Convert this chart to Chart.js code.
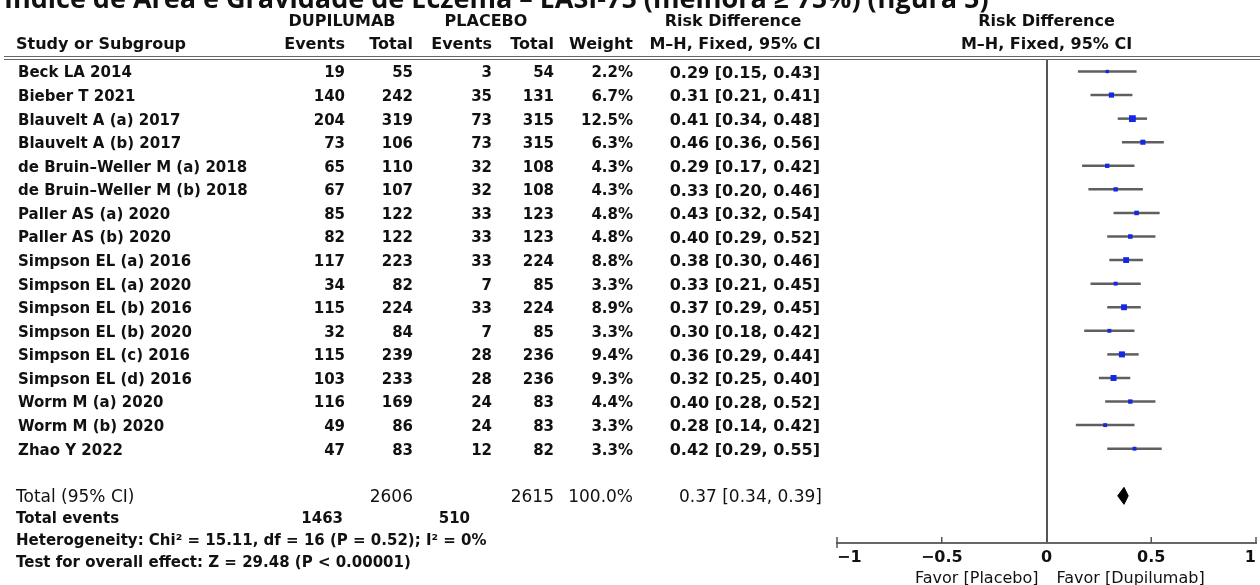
<!DOCTYPE html>
<html lang="pt">
<head>
    <meta charset="UTF-8">
    <title>EASI-75 forest plot</title>
    <script src="https://cdn.jsdelivr.net/npm/chart.js"></script>
    <style>
        html, body { margin: 0; padding: 0; background: #fff; overflow: hidden; }
        canvas { display: block; }
    </style>
</head>
<body>
    <canvas id="forestChart" width="1261" height="585"></canvas>
    <script>
        const studies = [
            "Beck LA 2014", "Bieber T 2021", "Blauvelt A (a) 2017", "Blauvelt A (b) 2017",
            "de Bruin\u2013Weller M (a) 2018", "de Bruin\u2013Weller M (b) 2018",
            "Paller AS (a) 2020", "Paller AS (b) 2020", "Simpson EL (a) 2016", "Simpson EL (a) 2020",
            "Simpson EL (b) 2016", "Simpson EL (b) 2020", "Simpson EL (c) 2016", "Simpson EL (d) 2016",
            "Worm M (a) 2020", "Worm M (b) 2020", "Zhao Y 2022"
        ];
        const dupEvents = [19, 140, 204, 73, 65, 67, 85, 82, 117, 34, 115, 32, 115, 103, 116, 49, 47];
        const dupTotal = [55, 242, 319, 106, 110, 107, 122, 122, 223, 82, 224, 84, 239, 233, 169, 86, 83];
        const plaEvents = [3, 35, 73, 73, 32, 32, 33, 33, 33, 7, 33, 7, 28, 28, 24, 24, 12];
        const plaTotal = [54, 131, 315, 315, 108, 108, 123, 123, 224, 85, 224, 85, 236, 236, 83, 83, 82];
        const weights = [2.2, 6.7, 12.5, 6.3, 4.3, 4.3, 4.8, 4.8, 8.8, 3.3, 8.9, 3.3, 9.4, 9.3, 4.4, 3.3, 3.3];
        const riskDiff = [0.29, 0.31, 0.41, 0.46, 0.29, 0.33, 0.43, 0.40, 0.38, 0.33, 0.37, 0.30, 0.36, 0.32, 0.40, 0.28, 0.42];
        const ciLow = [0.15, 0.21, 0.34, 0.36, 0.17, 0.20, 0.32, 0.29, 0.30, 0.21, 0.29, 0.18, 0.29, 0.25, 0.28, 0.14, 0.29];
        const ciHigh = [0.43, 0.41, 0.48, 0.56, 0.42, 0.46, 0.54, 0.52, 0.46, 0.45, 0.45, 0.42, 0.44, 0.40, 0.52, 0.42, 0.55];

        const totalDup = 2606, totalPla = 2615, totalWeight = 100.0;
        const totalRd = 0.37, totalLow = 0.34, totalHigh = 0.39;
        const totalEventsDup = 1463, totalEventsPla = 510;
        const xTicks = [-1, -0.5, 0, 0.5, 1];

        const TOTAL_ROW = 18;
        const fmt = v => v.toFixed(2);

        // text table on the left + header + footer notes
        const tablePlugin = {
            id: 'forestTable',
            afterDraw(chart) {
                const c = chart.ctx;
                const xs = chart.scales.x, ys = chart.scales.y;
                const zero = xs.getPixelForValue(0);
                const py = i => ys.getPixelForValue(i) + 2;
                const txt = (s, x, y, align, font) => {
                    c.font = font;
                    c.textAlign = align;
                    c.fillText(s, x, y);
                };
                c.save();
                c.fillStyle = '#111';
                c.textBaseline = 'alphabetic';
                txt('\u00cdndice de \u00c1rea e Gravidade de Eczema \u2013 EASI-75 (melhora \u2265 75%) (figura 5)',
                    4, 8, 'left', 'bold 27px "Open Sans"');

                c.textBaseline = 'middle';
                const hb = 'bold 16px "DejaVu Sans"';
                txt('DUPILUMAB', 342, 22, 'center', hb);
                txt('PLACEBO', 486, 22, 'center', hb);
                txt('Risk Difference', 733, 22, 'center', hb);
                txt('Risk Difference', zero, 22, 'center', hb);
                txt('Study or Subgroup', 16, 45, 'left', hb);
                txt('Events', 345, 45, 'right', hb);
                txt('Total', 413, 45, 'right', hb);
                txt('Events', 492, 45, 'right', hb);
                txt('Total', 554, 45, 'right', hb);
                txt('Weight', 633, 45, 'right', hb);
                txt('M\u2013H, Fixed, 95% CI', 735, 45, 'center', hb);
                txt('M\u2013H, Fixed, 95% CI', zero, 45, 'center', hb);

                // double rule under the header
                c.strokeStyle = '#666';
                c.lineWidth = 1.2;
                [56.5, 59.5].forEach(y => {
                    c.beginPath();
                    c.moveTo(4, y);
                    c.lineTo(chart.width, y);
                    c.stroke();
                });

                const rf = 'bold 15px "DejaVu Sans"';
                const rdf = 'bold 16px "DejaVu Sans"';
                studies.forEach((name, i) => {
                    const y = py(i);
                    txt(name, 18, y, 'left', rf);
                    txt(String(dupEvents[i]), 345, y, 'right', rf);
                    txt(String(dupTotal[i]), 413, y, 'right', rf);
                    txt(String(plaEvents[i]), 492, y, 'right', rf);
                    txt(String(plaTotal[i]), 554, y, 'right', rf);
                    txt(weights[i].toFixed(1) + '%', 633, y, 'right', rf);
                    txt(fmt(riskDiff[i]) + ' [' + fmt(ciLow[i]) + ', ' + fmt(ciHigh[i]) + ']', 820, y, 'right', rdf);
                });

                const tf = '17px "DejaVu Sans"';
                const ty = py(TOTAL_ROW);
                txt('Total (95% CI)', 16, ty, 'left', tf);
                txt(String(totalDup), 413, ty, 'right', tf);
                txt(String(totalPla), 554, ty, 'right', tf);
                txt(totalWeight.toFixed(1) + '%', 633, ty, 'right', tf);
                txt(fmt(totalRd) + ' [' + fmt(totalLow) + ', ' + fmt(totalHigh) + ']', 822, ty, 'right', tf);

                const nf = 'bold 15px "DejaVu Sans"';
                txt('Total events', 16, 519, 'left', nf);
                txt(String(totalEventsDup), 343, 519, 'right', nf);
                txt(String(totalEventsPla), 470, 519, 'right', nf);
                txt('Heterogeneity: Chi\u00b2 = 15.11, df = 16 (P = 0.52); I\u00b2 = 0%', 16, 541, 'left', nf);
                txt('Test for overall effect: Z = 29.48 (P < 0.00001)', 16, 563, 'left', nf);

                const ff = '16px "DejaVu Sans"';
                txt('Favor [Placebo]', zero - 8, 579, 'right', ff);
                txt('Favor [Dupilumab]', zero + 10, 579, 'left', ff);

                // small tick marks on the axis
                const axisY = chart.chartArea.bottom;
                c.strokeStyle = '#555';
                c.lineWidth = 1.5;
                xTicks.forEach(v => {
                    if (v === 0) return;
                    const px = xs.getPixelForValue(v);
                    c.beginPath();
                    c.moveTo(px, axisY - 6);
                    c.lineTo(px, axisY + (v === -1 ? 5 : 0));
                    c.stroke();
                });
                c.restore();
            }
        };

        const pointSet = {
            data: riskDiff.map((v, i) => ({ x: v, y: i })),
            pointStyle: 'rect',
            pointRadius: weights.map(w => (0.8 + 1.7 * Math.sqrt(w)) / Math.SQRT2),
            backgroundColor: '#1428e6',
            borderColor: '#1428e6',
            borderWidth: 0,
            showLine: false
        };

        const diamondSet = {
            data: [
                { x: totalLow, y: TOTAL_ROW },
                { x: totalRd, y: TOTAL_ROW - 0.36 },
                { x: totalHigh, y: TOTAL_ROW },
                { x: totalRd, y: TOTAL_ROW + 0.36 },
                { x: totalLow, y: TOTAL_ROW }
            ],
            showLine: true,
            fill: 'shape',
            backgroundColor: '#000',
            borderColor: '#000',
            borderWidth: 1,
            pointRadius: 0,
            tension: 0
        };

        const ciSets = studies.map((s, i) => ({
            data: [{ x: ciLow[i], y: i }, { x: ciHigh[i], y: i }],
            showLine: true,
            borderColor: '#5f5f5f',
            borderWidth: 2.5,
            pointRadius: 0
        }));

        new Chart(document.getElementById('forestChart').getContext('2d'), {
            type: 'scatter',
            data: { datasets: [pointSet, diamondSet, ...ciSets] },
            options: {
                responsive: false,
                animation: false,
                events: [],
                layout: { padding: { left: 837, top: 59, right: 0, bottom: 0 } },
                plugins: {
                    legend: { display: false },
                    tooltip: { enabled: false }
                },
                scales: {
                    x: {
                        type: 'linear',
                        min: -1,
                        max: 1,
                        afterBuildTicks: s => { s.ticks = xTicks.map(v => ({ value: v })); },
                        afterFit: s => { s.height = 42; },
                        ticks: {
                            autoSkip: false,
                            maxRotation: 0,
                            align: 'inner',
                            padding: 5,
                            color: '#111',
                            font: { family: 'DejaVu Sans', size: 16, weight: 'bold' },
                            callback: v => (v < 0 ? '\u2212' + Math.abs(v) : String(v))
                        },
                        grid: {
                            drawTicks: false,
                            lineWidth: 2,
                            color: ctx => (ctx.tick && ctx.tick.value === 0 ? '#555' : 'rgba(0,0,0,0)')
                        },
                        border: { display: true, color: '#666', width: 2 }
                    },
                    y: {
                        type: 'linear',
                        reverse: true,
                        min: -0.53,
                        max: 20,
                        display: false
                    }
                }
            },
            plugins: [tablePlugin]
        });
    </script>
</body>
</html>
